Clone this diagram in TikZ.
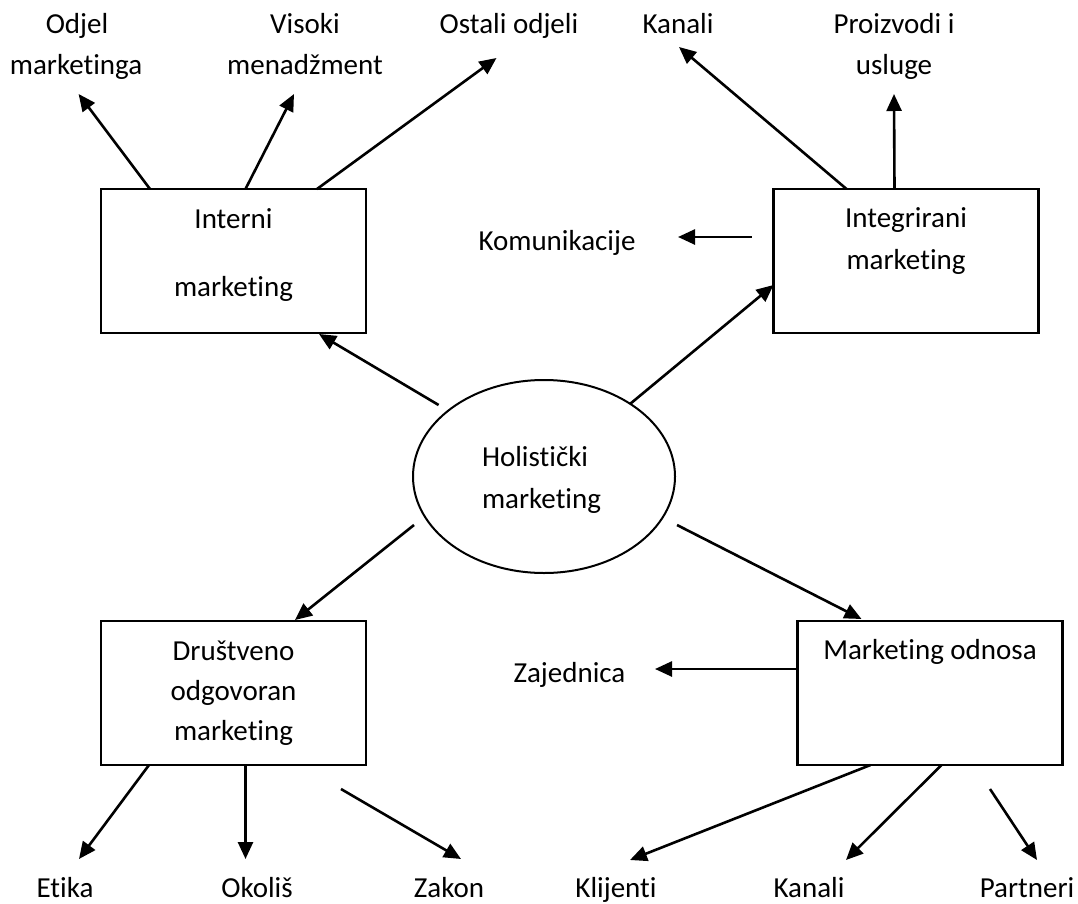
\documentclass[tikz,border=0pt]{standalone}
\usepackage{fontspec}
\setmainfont{Carlito}[Ligatures={NoCommon}]
\usetikzlibrary{shapes.geometric,arrows.meta,calc}
\begin{document}
\begin{tikzpicture}[x=1pt,y=-1pt,
  every node/.style={font=\fontsize{29}{35}\selectfont, inner sep=0pt, outer sep=0pt},
  lbl/.style={anchor=base},
  lblw/.style={anchor=base west},
  box/.style={draw, line width=2.5pt, minimum width=265pt, minimum height=144pt},
  oval/.style={draw, ellipse, line width=2pt, minimum width=262pt, minimum height=193pt},
  arr/.style={line width=2.6pt, -{Triangle[length=17pt,width=15pt]}}]
\useasboundingbox (0,0) rectangle (1078,904);

% boxes and ellipse
\node[box] (interni) at (233.5,261) {};
\node[box] (integr) at (906,261) {};
\node[box] (drust) at (233.5,693) {};
\node[box] (odnosa) at (930,693) {};
\node[oval] (holis) at (544,476.5) {};

% texts in shapes
\node[lbl] (tInt1) at (233.5,228) {Interni};
\node[lbl] (tInt2) at (233.5,296) {marketing};
\node[lbl] (tIg1) at (906,227) {Integrirani};
\node[lbl] (tIg2) at (906,269) {marketing};
\node[lblw] (tH1) at (482,466) {Holistički};
\node[lblw] (tH2) at (482,508) {marketing};
\node[lbl] (tD1) at (233.5,660) {Društveno};
\node[lbl] (tD2) at (233.5,700) {odgovoran};
\node[lbl] (tD3) at (233.5,740) {marketing};
\node[lbl] (tMo) at (930,659) {Marketing odnosa};

% outer labels
\node[lbl] (odjelA) at (77,34) {Odjel};
\node[lbl] (odjelB) at (76,75) {marketinga};
\node[lbl] (visA) at (305,34) {Visoki};
\node[lbl] (visB) at (305,75) {menadžment};
\node[lbl] (ostali) at (509,34) {Ostali odjeli};
\node[lbl] (kanaliT) at (678,34) {Kanali};
\node[lbl] (proA) at (894,34) {Proizvodi i};
\node[lbl] (proB) at (894,75) {usluge};
\node[lbl] (kom) at (557,250) {Komunikacije};
\node[lbl] (zaj) at (569.5,682) {Zajednica};
\node[lbl] (etika) at (65,897) {Etika};
\node[lbl] (okolis) at (257,897) {Okoliš};
\node[lbl] (zakon) at (449,897) {Zakon};
\node[lbl] (klijenti) at (616,897) {Klijenti};
\node[lbl] (kanaliB) at (809,897) {Kanali};
\node[lbl] (partneri) at (1027,897) {Partneri};

% free arrow ends
\coordinate (eOdjel) at (78.6,94);
\coordinate (eVis) at (294,94);
\coordinate (eOst) at (496.5,58);
\coordinate (eKan) at (679,47);
\coordinate (ePro) at (894,94);
\coordinate (eKom) at (678,237);
\coordinate (eZaj) at (655,669);
\coordinate (eEt) at (79,859);
\coordinate (eOk) at (245.5,859);
\coordinate (eZak) at (461,859);
\coordinate (sZak) at (341,789);
\coordinate (eKl) at (630,860);
\coordinate (eKb) at (846,860);
\coordinate (ePa) at (1037,860);
\coordinate (sPa) at (990,789);
\coordinate (hUL) at (438.6,405);
\coordinate (hUR) at (630,404);
\coordinate (hLL) at (414,525);
\coordinate (hLR) at (677,525);

% Interni marketing
\draw[arr] ($(interni.north west)+(49,0)$) -- (eOdjel);
\draw[arr] ($(interni.north west)+(144.5,0)$) -- (eVis);
\draw[arr] ($(interni.north west)+(216,0)$) -- (eOst);
% Integrirani marketing
\draw[arr] ($(integr.north west)+(73,0)$) -- (eKan);
\draw[arr] ($(integr.north west)+(121,0)$) -- (ePro);
\draw[arr] ($(integr.west)+(-22,-24)$) -- (eKom);
% Holisticki marketing
\draw[arr] (hUL) -- ($(interni.south west)+(218,1)$);
\draw[arr] (hUR) -- ($(integr.south west)+(0,-48)$);
\draw[arr] (hLL) -- ($(drust.north west)+(194,-1)$);
\draw[arr] (hLR) -- ($(odnosa.north west)+(64,-2)$);
% Drustveno odgovoran marketing
\draw[arr] ($(drust.south west)+(48,0)$) -- (eEt);
\draw[arr] ($(drust.south west)+(144.5,0)$) -- (eOk);
\draw[arr] (sZak) -- (eZak);
% Marketing odnosa
\draw[arr] ($(odnosa.north west)+(0,48)$) -- (eZaj);
\draw[arr] ($(odnosa.south west)+(73,0)$) -- (eKl);
\draw[arr] ($(odnosa.south west)+(144,0)$) -- (eKb);
\draw[arr] (sPa) -- (ePa);
\end{tikzpicture}
\end{document}
